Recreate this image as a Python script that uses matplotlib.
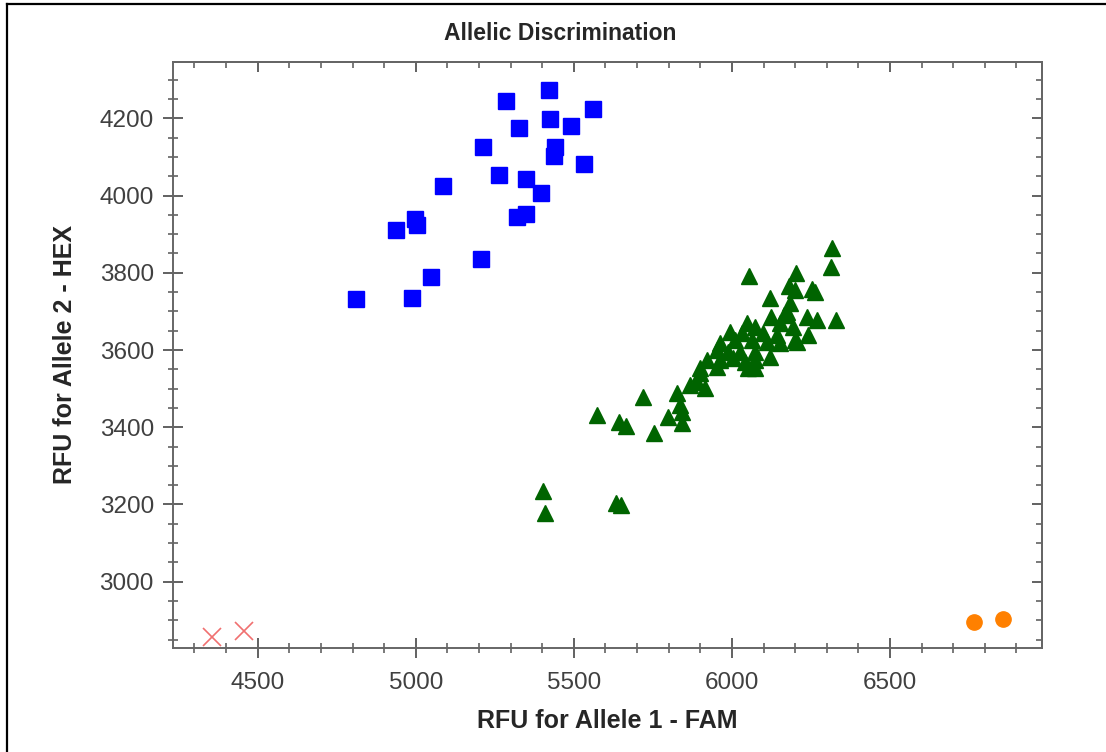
import matplotlib
matplotlib.use("Agg")
import matplotlib.pyplot as plt
from matplotlib.lines import Line2D
from matplotlib.ticker import MultipleLocator

plt.rcParams['font.family'] = ['Liberation Sans', 'DejaVu Sans']

# allele 2 homozygotes (blue squares)
hex_x = [5423, 5284, 5561, 5424, 5490, 5326, 5212, 5439, 5436, 5531, 5263, 5349,
         5395, 5087, 5350, 5320, 4998, 5004, 4938, 5207, 5048, 4989, 4810]
hex_y = [4273, 4245, 4223, 4198, 4180, 4175, 4125, 4126, 4102, 4082, 4052, 4043,
         4006, 4025, 3952, 3944, 3938, 3923, 3912, 3835, 3789, 3735, 3733]

# heterozygotes (green triangles)
het_x = [6316, 6313, 6054, 6202, 6180, 6199, 6253, 6262, 6120, 6183, 6174, 6329,
         6237, 6269, 6123, 6164, 6152, 6193, 6240, 6205, 6047, 6073, 5994, 6031,
         6098, 6142, 6199, 5962, 6009, 6063, 6110, 6152, 5953, 5987, 6025, 6073,
         6120, 5921, 5962, 6003, 6041, 6073, 5899, 5953, 6051, 6073, 5899, 5867,
         5915, 5826, 5836, 5842, 5798, 5842, 5753, 5719, 5665, 5643, 5573, 5402,
         5409, 5633, 5649, 5888]
het_y = [3864, 3815, 3792, 3799, 3766, 3755, 3758, 3750, 3735, 3722, 3698, 3678,
         3685, 3678, 3685, 3691, 3670, 3660, 3639, 3621, 3670, 3660, 3647, 3644,
         3644, 3639, 3626, 3618, 3626, 3626, 3621, 3618, 3600, 3595, 3595, 3595,
         3582, 3574, 3574, 3579, 3569, 3574, 3553, 3556, 3553, 3553, 3540, 3509,
         3502, 3489, 3458, 3439, 3427, 3411, 3385, 3478, 3403, 3414, 3432, 3235,
         3178, 3204, 3199, 3518]

# allele 1 homozygotes (orange circles)
fam_x = [6765, 6857]
fam_y = [2896, 2903]

# no template controls
ntc_x = [4354, 4457]
ntc_y = [2858, 2871]

fig = plt.figure(figsize=(11.06, 7.52), dpi=100)
ax = fig.add_axes([0.1561, 0.1387, 0.7858, 0.7789])

ax.plot(hex_x, hex_y, 's', color='#0000ff', ms=11.5, mec='#0000ff', ls='none')
ax.plot(het_x, het_y, '^', color='#006400', ms=12, mec='#006400', ls='none')
ax.plot(fam_x, fam_y, 'o', color='#ff8000', ms=11, mec='#ff8000', ls='none')
ax.plot(ntc_x, ntc_y, 'x', color='#f07070', ms=13, mew=1.2, ls='none')

ax.set_xlim(4231, 6980)
ax.set_ylim(2829, 4346)
ax.xaxis.set_major_locator(MultipleLocator(500))
ax.xaxis.set_minor_locator(MultipleLocator(100))
ax.yaxis.set_major_locator(MultipleLocator(200))
ax.yaxis.set_minor_locator(MultipleLocator(50))

for s in ax.spines.values():
    s.set_color('#666666')
    s.set_linewidth(1.4)

ax.tick_params(which='major', direction='inout', length=15, width=1.3,
               color='#555555', labelsize=17.5, labelcolor='#404040')
ax.tick_params(which='minor', direction='inout', length=7, width=1.1, color='#555555')
ax.tick_params(axis='x', which='major', pad=10)
ax.tick_params(axis='y', which='major', pad=6)

# inward ticks on top and right
top = ax.secondary_xaxis('top')
top.xaxis.set_major_locator(MultipleLocator(500))
top.xaxis.set_minor_locator(MultipleLocator(100))
top.tick_params(which='major', direction='in', length=7, width=1.3, color='#555555', labeltop=False)
top.tick_params(which='minor', direction='in', length=4, width=1.1, color='#555555')
right = ax.secondary_yaxis('right')
right.yaxis.set_major_locator(MultipleLocator(200))
right.yaxis.set_minor_locator(MultipleLocator(50))
right.tick_params(which='major', direction='in', length=7, width=1.3, color='#555555', labelright=False)
right.tick_params(which='minor', direction='in', length=4, width=1.1, color='#555555')
for sa in (top, right):
    for s in sa.spines.values():
        s.set_color('#666666')
        s.set_linewidth(1.4)

ax.set_xlabel("RFU for Allele 1 - FAM", fontsize=18, fontweight='bold', color='#262626')
ax.set_ylabel("RFU for Allele 2 - HEX", fontsize=18, fontweight='bold', color='#262626')
ax.xaxis.set_label_coords(0.5, -0.105)
ax.yaxis.set_label_coords(-0.110, 0.5)

fig.text(560 / 1106, 1 - 33 / 752, "Allelic Discrimination", ha='center', va='center',
         fontsize=16.5, fontweight='bold', color='#262626')

# outer frame (top and left edges)
fig.add_artist(Line2D([7 / 1106, 7 / 1106], [0, 1 - 4 / 752], color='black', lw=1.6))
fig.add_artist(Line2D([7 / 1106, 1], [1 - 4 / 752, 1 - 4 / 752], color='black', lw=1.6))

fig.savefig("out.png", dpi=100)
